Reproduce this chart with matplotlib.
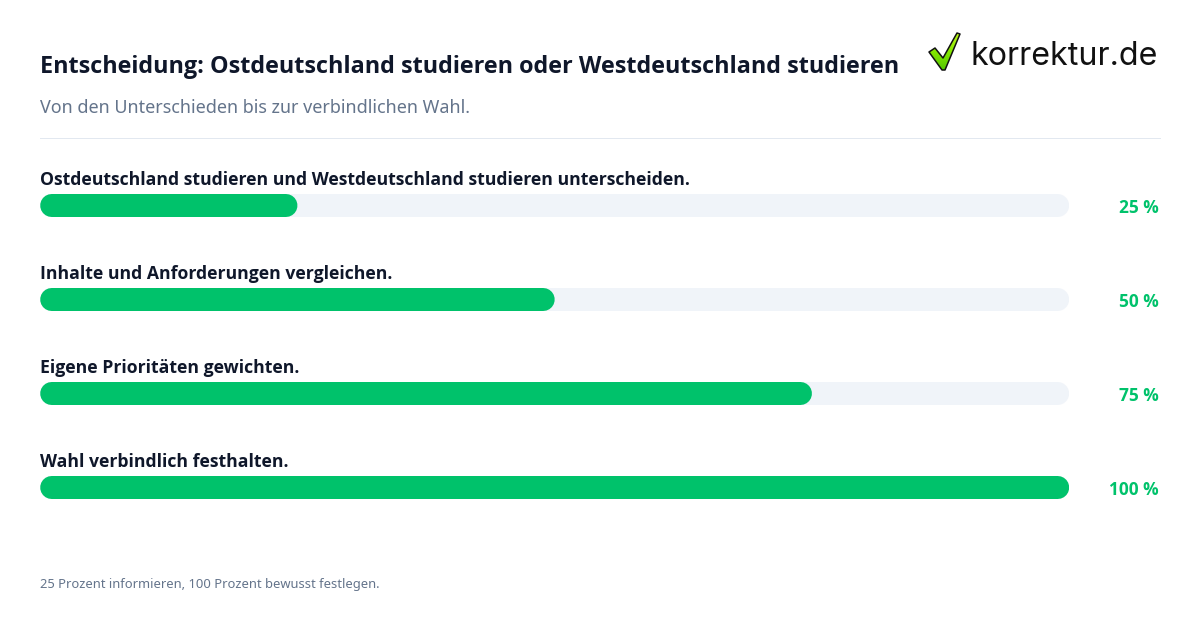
import matplotlib
matplotlib.use("Agg")
import matplotlib.pyplot as plt
import numpy as np
from matplotlib.patches import Polygon

W, H = 1200, 630
plt.rcParams["font.family"] = ["Noto Sans", "DejaVu Sans"]

title = "Entscheidung: Ostdeutschland studieren oder Westdeutschland studieren"
subtitle = "Von den Unterschieden bis zur verbindlichen Wahl."
footnote = "25 Prozent informieren, 100 Prozent bewusst festlegen."
brand = "korrektur.de"
steps = [
    "Ostdeutschland studieren und Westdeutschland studieren unterscheiden.",
    "Inhalte und Anforderungen vergleichen.",
    "Eigene Prioritäten gewichten.",
    "Wahl verbindlich festhalten.",
]
percent = [25, 50, 75, 100]

GREEN = "#00c26b"
TRACK = "#f0f4f9"
INK = "#0f172a"
MUTED = "#64748b"
BOLD = "Open Sans"
px = 72 / 100

fig = plt.figure(figsize=(W / 100, H / 100), dpi=100, facecolor="white")

ov = fig.add_axes([0, 0, 1, 1])
ov.axis("off")

ov.text(40, 73, title, fontsize=23.35 * px, fontweight="bold", family=BOLD, color=INK, va="baseline", ha="left")
ov.text(40, 113, subtitle, fontsize=18 * px, color=MUTED, va="baseline", ha="left")
ov.plot([40, 1160], [138, 138], color="#e2e8f0", lw=1 * px)
ov.text(40, 588, footnote, fontsize=12.97 * px, color=MUTED, va="baseline", ha="left")

# logo
ov.text(970.5, 65, brand, fontsize=32.2 * px, color="#111111", family="Inter", va="baseline", ha="left")
check = [(929, 52), (935, 48), (943, 58), (957, 33), (960, 34), (945, 70), (942, 70)]
grad = np.linspace(0, 1, 64).reshape(-1, 1)
cmap = matplotlib.colors.LinearSegmentedColormap.from_list("chk", ["#c8f81e", "#86e800", "#4fc400"])
im = ov.imshow(grad, extent=(925, 963, 72, 30), cmap=cmap, aspect="auto", zorder=3)
ov.set_xlim(0, W)
ov.set_ylim(H, 0)
poly = Polygon(check, closed=True, transform=ov.transData, facecolor="none", edgecolor="#111111", lw=1.1, joinstyle="round", zorder=4)
ov.add_patch(poly)
im.set_clip_path(poly)

top, bottom = 158, 517.5
ax = fig.add_axes([40.2 / W, 1 - bottom / H, 1029 / W, (bottom - top) / H])
ax.patch.set_alpha(0)
ax.set_xlim(0, 100)
pitch = 94
ax.set_ylim((bottom - 205.5) / pitch, (top - 205.5) / pitch)
ax.axis("off")

bar_px = 23
r = (bar_px / 2) / 1029 * 100
for i, (label, v) in enumerate(zip(steps, percent)):
    ax.plot([r, 100 - r], [i, i], color=TRACK, lw=bar_px * px, solid_capstyle="round", snap=False)
    ax.plot([r, v - r], [i, i], color=GREEN, lw=bar_px * px, solid_capstyle="round", snap=False)
    ax.annotate(label, (0, i), xytext=(0, 20.5 * px), textcoords="offset points",
                fontsize=17.63 * px, fontweight="bold", family=BOLD, color=INK, va="baseline", ha="left", annotation_clip=False)
    ax.annotate(f"{v} %", (100, i), xytext=(89.6 * px, -7.5 * px), textcoords="offset points",
                fontsize=17.2 * px, fontweight="bold", family=BOLD, color=GREEN, va="baseline", ha="right", annotation_clip=False)

fig.savefig("out.png", dpi=100, facecolor="white")
